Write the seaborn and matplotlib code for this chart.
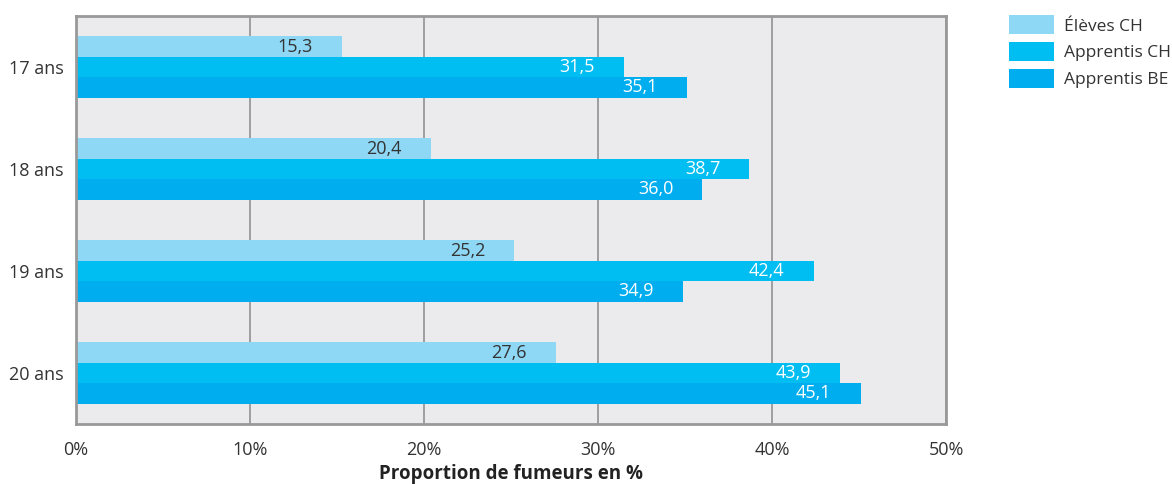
import matplotlib
matplotlib.use("Agg")
import matplotlib.pyplot as plt
import seaborn as sns
import pandas as pd
from matplotlib.patches import Patch

ages = ["17 ans", "18 ans", "19 ans", "20 ans"]
series = ["Élèves CH", "Apprentis CH", "Apprentis BE"]
eleves_ch = [15.3, 20.4, 25.2, 27.6]
apprentis_ch = [31.5, 38.7, 42.4, 43.9]
apprentis_be = [35.1, 36.0, 34.9, 45.1]
colors = ["#8ed8f6", "#00bdf2", "#00aeef"]
xticks = [0, 10, 20, 30, 40, 50]

rows = []
for name, vals in zip(series, [eleves_ch, apprentis_ch, apprentis_be]):
    for age, v in zip(ages, vals):
        rows.append({"age": age, "groupe": name, "valeur": v})
df = pd.DataFrame(rows)

sns.set_theme(style="white")
plt.rcParams["font.family"] = ["Open Sans", "DejaVu Sans"]

fig = plt.figure(figsize=(11.72, 4.84), dpi=100)
ax = fig.add_axes([76 / 1172, 1 - 424 / 484, 870 / 1172, 408 / 484])
ax.set_facecolor("#ebebed")

sns.barplot(data=df, y="age", x="valeur", hue="groupe", order=ages,
            hue_order=series, palette=colors, orient="h", width=0.6,
            saturation=1, dodge=True, legend=False, ax=ax, errorbar=None,
            linewidth=0, edgecolor="none")

ax.set_xlim(0, 50)
ax.set_ylim(3.5, -0.5)
ax.set_xticks(xticks)
ax.set_xticklabels([f"{t}%" for t in xticks], fontsize=13, color="#333333")
ax.tick_params(axis="y", labelsize=13, labelcolor="#333333", length=0, pad=9)
ax.tick_params(axis="x", length=5, width=1.5, color="#999999", pad=7)
ax.grid(axis="x", color="#999999", linewidth=1.3)
ax.set_axisbelow(True)
for s in ax.spines.values():
    s.set_color("#999999")
    s.set_linewidth(2)
ax.set_ylabel("")
ax.set_xlabel("Proportion de fumeurs en %", fontsize=13.5, fontweight="bold",
              color="#222222", labelpad=4)

for container, name in zip(ax.containers, series):
    dark = name == "Élèves CH"
    labels = [f"{b.get_width():.1f}".replace(".", ",") for b in container]
    texts = ax.bar_label(container, labels=labels, label_type="edge",
                         padding=-21, fontsize=13,
                         color="#333333" if dark else "white")
    for t in texts:
        t.set_ha("right")

handles = [Patch(facecolor=c, edgecolor="none", label=n) for c, n in zip(colors, series)]
fig.legend(handles=handles, loc="upper left", bbox_to_anchor=(1009 / 1172, 1 - 15 / 484),
           frameon=False, fontsize=12.5, handlelength=2.6, handleheight=1.35,
           labelspacing=0.42, handletextpad=0.55, borderpad=0, borderaxespad=0,
           labelcolor="#333333")

fig.savefig("out.png", dpi=100)
